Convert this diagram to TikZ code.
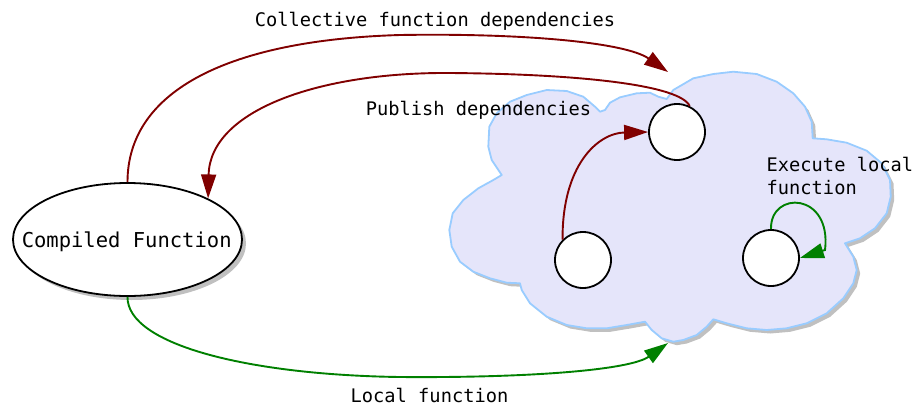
\documentclass[tikz,border=0pt]{standalone}
\usepackage{fontspec}
\newfontfamily\dmono{DejaVu Sans Mono}
\usetikzlibrary{arrows.meta,shapes.geometric}
\definecolor{depred}{RGB}{128,0,0}
\definecolor{locgreen}{RGB}{0,128,0}
\definecolor{cloudfill}{RGB}{229,229,250}
\definecolor{cloudline}{RGB}{153,204,255}
\definecolor{shadowgray}{RGB}{192,192,192}

% outline of the cluster cloud
\def\cloudoutline{(501.7,175) -- (491.7,160) -- (488.3,146.7) -- (489.3,126.7) -- (496.7,113.3)
 -- (510,101.7) -- (526.7,95) -- (546.7,90) -- (566.7,91) -- (583.3,96.7) -- (595,106.7)
 -- (600,111.7) -- (605,110) -- (610,102.7) -- (620,97.3) -- (636.7,93.3) -- (650,92.7)
 -- (658.3,96.7) -- (666.7,99) -- (673.3,90) -- (693.3,78.3) -- (713.3,74) -- (733.3,71.7)
 -- (756.7,74) -- (776.7,81.7) -- (793.3,93.3) -- (805,106.7) -- (811.7,121.7) -- (812.7,138.3)
 -- (826.7,139.3) -- (846.7,142.7) -- (866.7,150.7) -- (881.7,163.3) -- (890,180) -- (890.7,196.7)
 -- (886.7,213.3) -- (875,228.3) -- (860,238.3) -- (845,243.3)
 -- (853.3,256.7) -- (856.7,270) -- (853.3,283.3) -- (843.3,298.3) -- (826.7,313.3) -- (806.7,323.3)
 -- (786.7,328.3) -- (766.7,330) -- (746.7,328.3) -- (726.7,323.3) -- (713.3,319.3)
 -- (706.7,326.7) -- (696.7,335) -- (683.3,340) -- (673.3,341.7) -- (661.7,338.3) -- (651.7,330) -- (645,321.7)
 -- (626.7,325) -- (606.7,328.3) -- (586.7,328.3) -- (566.7,325) -- (546.7,316.7) -- (530,303.3)
 -- (521.7,290) -- (520,283.3)
 -- (506.7,282.7) -- (490,278.3) -- (473.3,271.7) -- (460,261.7) -- (451.7,246.7) -- (449.3,230)
 -- (452.7,213.3) -- (463.3,200) -- (478.3,188.3) -- (493.3,180) -- cycle}

\begin{document}
\begin{tikzpicture}[x=1pt,y=-1pt,
  lbl/.style={font=\dmono\fontsize{18.7}{22}\selectfont, inner sep=0pt, anchor=base},
  arrowtip/.style={-{Triangle[length=24pt,width=15pt]}},
  depline/.style={draw=depred, line width=1.9pt, arrowtip},
  locline/.style={draw=locgreen, line width=1.9pt, arrowtip},
  task/.style={circle, draw, line width=1.8pt, fill=white, minimum size=56pt, inner sep=0pt},
]
\useasboundingbox (0,0) rectangle (917,408);

% cloud with its shadow
\fill[shadowgray, shift={(3.5,3.5)}] \cloudoutline;
\filldraw[fill=cloudfill, draw=cloudline, line width=1.8pt, line join=round] \cloudoutline;

% compiled function with its shadow
\fill[shadowgray] (131.5,243.5) ellipse [x radius=114.5, y radius=56.5];
\node[ellipse, draw, line width=1.8pt, fill=white, minimum width=229pt, minimum height=113pt, inner sep=0pt] (cf) at (127.5,239.5) {};
\node[font=\dmono\fontsize{20.5}{24}\selectfont, inner sep=0pt, anchor=base] (cflabel) at (126.7,247) {Compiled Function};

% tasks inside the cloud
\node[task] (c1) at (677,132) {};
\node[task] (c2) at (583,260) {};
\node[task] (c3) at (771,258) {};

% connector ends on the cloud
\coordinate (cloudtop) at (668,72);
\coordinate (cloudbot) at (668,343);
\coordinate (loopbend) at (825,250);

% connectors
\draw[depline] (cf.north) .. controls (127.5,90) and (230,40) .. (400,35)
  .. controls (520,33) and (625,42) .. (cloudtop);
\draw[depline] (c1.64) .. controls (680,85) and (580,74) .. (450,73)
  .. controls (320,72) and (210,110) .. (cf.27);
\draw[locline] (cf.south) .. controls (127,345) and (250,375) .. (400,377)
  .. controls (530,378) and (630,370) .. (cloudbot);
\draw[depline] (c2.135) .. controls (562,165) and (598,133) .. (c1.west);
\draw[locline] (c3.north) .. controls (770,190) and (832,192) .. (loopbend) -- (c3.east);

% labels
\node[lbl] (lcoll) at (435,26.7) {Collective function dependencies};
\node[lbl] (lpub) at (478.5,115) {Publish dependencies};
\node[lbl] (lloc) at (429.5,402) {Local function};
\node[lbl, anchor=base west] (lexec1) at (766.5,171) {Execute local};
\node[lbl, anchor=base west] (lexec2) at (766.5,194.5) {function};
\end{tikzpicture}
\end{document}
